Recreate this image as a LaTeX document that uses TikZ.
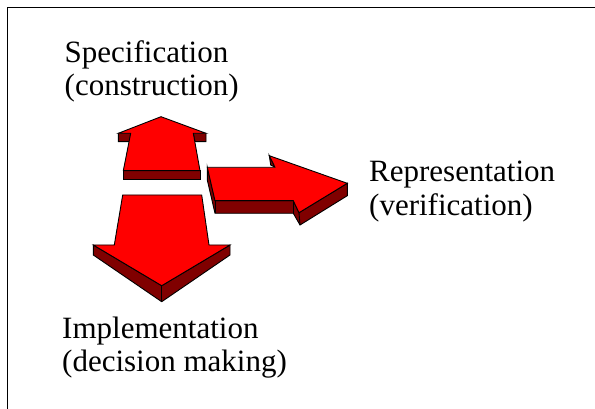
\documentclass[tikz,border=0pt]{standalone}
\usepackage{fontspec}
\setmainfont{Liberation Serif}
\definecolor{arrowred}{RGB}{255,0,0}
\definecolor{arrowdark}{RGB}{128,0,0}
\tikzset{
  face/.style={fill=arrowred, draw=black, line width=0.9pt, line join=miter},
  side/.style={fill=arrowdark, draw=black, line width=0.9pt, line join=miter},
  edge/.style={draw=black, line width=0.9pt},
  frameline/.style={draw=black, line width=1.4pt},
  label/.style={anchor=base west, inner sep=0pt, font=\fontsize{31}{34}\selectfont}
}
\begin{document}
\begin{tikzpicture}[x=1pt, y=-1pt]
  \useasboundingbox (0,0) rectangle (595,409);

  % open frame: left and top edges
  \draw[frameline] (7.5,409) -- (7.5,7.5) -- (595,7.5);

  % up arrow: side faces, then front face
  \fill[side] (118.3,133.3) -- (130.7,133.3) -- (129.5,141.7) -- (118.3,141.7) -- cycle;
  \fill[side] (193.3,133.3) -- (206,133.3) -- (206,141.7) -- (195,141.7) -- cycle;
  \fill[side] (123.3,170.7) -- (200,170.7) -- (200,179) -- (123.3,179) -- cycle;
  \filldraw[face] (161,116.7) -- (206,133.3) -- (193.3,133.3) -- (200,170.7)
    -- (123.3,170.7) -- (130.7,133.3) -- (118.3,133.3) -- cycle;

  % right arrow: side faces, then front face
  \filldraw[side] (207.3,167.3) -- (215,200.7) -- (293.3,200.7) -- (299,212.7)
    -- (347.3,183.3) -- (347.3,195.7) -- (300,225) -- (293.3,213.3)
    -- (215,213.3) -- (207.3,180) -- cycle;
  \draw[edge] (215,200.7) -- (215,213.3);
  \draw[edge] (293.3,200.7) -- (293.3,213.3);
  \draw[edge] (299,212.7) -- (300,225);
  \filldraw[side] (269.3,155.7) -- (275,167.3) -- (270.7,165) -- cycle;
  \filldraw[face] (207.3,167.3) -- (275,167.3) -- (269.3,155.7) -- (347.3,183.3)
    -- (299,212.7) -- (293.3,200.7) -- (215,200.7) -- cycle;

  % down arrow: side faces, then front face
  \filldraw[side] (93.3,245) -- (161.7,285.7) -- (230,245) -- (230,255)
    -- (161.7,301.7) -- (93.3,255) -- cycle;
  \draw[edge] (161.7,285.7) -- (161.7,301.7);
  \filldraw[face] (122.7,195) -- (201.7,195) -- (209,245) -- (230,245)
    -- (161.7,285.7) -- (93.3,245) -- (114.3,245) -- cycle;

  % labels
  \node[label] (spec)  at (64.5,62.7)  {Specification};
  \node[label] (specb) at (64.5,96)    {(construction)};
  \node[label] (repr)  at (369,181.7) {Representation};
  \node[label] (reprb) at (369,215)   {(verification)};
  \node[label] (impl)  at (62,338)   {Implementation};
  \node[label] (implb) at (62,371.7) {(decision making)};
\end{tikzpicture}
\end{document}
